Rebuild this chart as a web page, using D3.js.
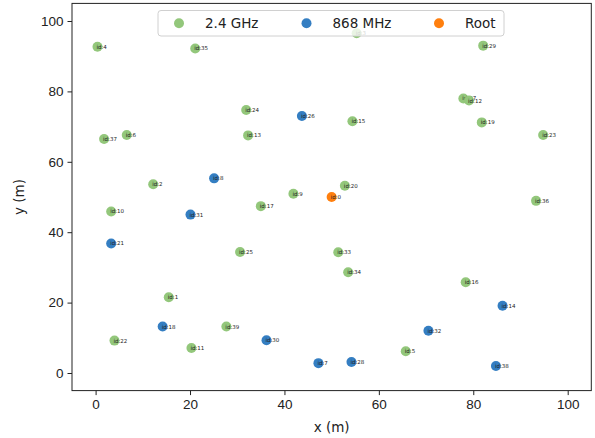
<!DOCTYPE html>
<html>
<head>
<meta charset="utf-8">
<script src="https://cdn.jsdelivr.net/npm/d3@7"></script>
<style>
  body { margin: 0; background: #fff; }
  svg { font-family: "DejaVu Sans", sans-serif; }
</style>
</head>
<body>
<div id="chart"></div>
<script>
// node ids, positions (m) and radio band
const nodeIds = [4, 35, 3, 29, 24, 26, 15, 27, 12, 19, 23, 37, 6, 13, 2, 8, 10, 31, 21, 9, 17, 0, 20, 36, 25, 33, 34, 16, 14, 1, 18, 39, 22, 11, 30, 7, 28, 5, 32, 38];
const nodeX = [0.4, 21.1, 55.3, 82.1, 31.9, 43.7, 54.4, 77.9, 79.1, 81.8, 94.8, 1.8, 6.6, 32.3, 12.2, 25.1, 3.3, 20.1, 3.3, 41.9, 35.0, 50.0, 52.8, 93.3, 30.6, 51.4, 53.5, 78.4, 86.2, 15.5, 14.2, 27.7, 4.0, 20.3, 36.2, 47.2, 54.2, 65.7, 70.5, 84.8];
const nodeY = [92.7, 92.2, 96.5, 93.0, 74.7, 73.0, 71.5, 78.0, 77.4, 71.2, 67.6, 66.5, 67.6, 67.5, 53.6, 55.3, 45.9, 45.0, 36.8, 50.9, 47.4, 50.0, 53.2, 48.9, 34.4, 34.3, 28.6, 25.8, 19.1, 21.5, 13.2, 13.2, 9.2, 7.1, 9.3, 2.8, 3.1, 6.2, 12.0, 2.0];
const nodeBand = ['2.4 GHz', '2.4 GHz', '2.4 GHz', '2.4 GHz', '2.4 GHz', '868 MHz', '2.4 GHz', '2.4 GHz', '2.4 GHz', '2.4 GHz',
  '2.4 GHz', '2.4 GHz', '2.4 GHz', '2.4 GHz', '2.4 GHz', '868 MHz', '2.4 GHz', '868 MHz', '868 MHz', '2.4 GHz',
  '2.4 GHz', 'Root', '2.4 GHz', '2.4 GHz', '2.4 GHz', '2.4 GHz', '2.4 GHz', '2.4 GHz', '868 MHz', '2.4 GHz',
  '868 MHz', '2.4 GHz', '2.4 GHz', '2.4 GHz', '868 MHz', '868 MHz', '868 MHz', '2.4 GHz', '868 MHz', '868 MHz'];

const bands = ['2.4 GHz', '868 MHz', 'Root'];
const bandColors = ['#93c77b', '#347ec2', '#ff7f0e'];
const xTicks = [0, 20, 40, 60, 80, 100];
const yTicks = [0, 20, 40, 60, 80, 100];

const W = 595, H = 438;
const margin = { top: 3.4, right: 3.7, bottom: 47.4, left: 72 };
const width = W - margin.left - margin.right;
const height = H - margin.top - margin.bottom;

const nodes = nodeIds.map((id, i) => ({ id, x: nodeX[i], y: nodeY[i], band: nodeBand[i] }));

const svg = d3.select('#chart').append('svg')
  .attr('width', W)
  .attr('height', H);

const g = svg.append('g')
  .attr('transform', `translate(${margin.left},${margin.top})`);

const x = d3.scaleLinear().domain([-5, 105]).range([0, width]);
const y = d3.scaleLinear().domain([-5, 105]).range([height, 0]);
const color = d3.scaleOrdinal().domain(bands).range(bandColors);

// axes
const xAxis = g.append('g')
  .attr('transform', `translate(0,${height})`)
  .call(d3.axisBottom(x).tickValues(xTicks).tickSize(4.5).tickPadding(4));
const yAxis = g.append('g')
  .call(d3.axisLeft(y).tickValues(yTicks).tickSize(4.5).tickPadding(4));

[xAxis, yAxis].forEach(a => {
  a.select('.domain').remove();
  a.selectAll('line').attr('stroke', '#222').attr('stroke-width', 1);
  a.selectAll('text').attr('fill', '#222').style('font-size', '13.5px');
});

// frame
g.append('rect')
  .attr('width', width)
  .attr('height', height)
  .attr('fill', 'none')
  .attr('stroke', '#222')
  .attr('stroke-width', 1);

// nodes + labels
const node = g.selectAll('.node')
  .data(nodes)
  .enter()
  .append('g')
  .attr('class', 'node');

node.append('circle')
  .attr('cx', d => x(d.x))
  .attr('cy', d => y(d.y))
  .attr('r', 5)
  .attr('fill', d => color(d.band));

node.append('text')
  .attr('x', d => x(d.x) - 1)
  .attr('y', d => y(d.y) + 2)
  .attr('fill', '#222')
  .style('font-size', '5.5px')
  .text(d => `id:${d.id}`);

// axis labels
svg.append('text')
  .attr('x', margin.left + width / 2)
  .attr('y', 432)
  .attr('text-anchor', 'middle')
  .attr('fill', '#222')
  .style('font-size', '13.5px')
  .text('x (m)');

svg.append('text')
  .attr('transform', `translate(24,${margin.top + height / 2}) rotate(-90)`)
  .attr('text-anchor', 'middle')
  .attr('fill', '#222')
  .style('font-size', '13.5px')
  .text('y (m)');

// legend
const legend = svg.append('g').attr('transform', 'translate(158,10.5)');
legend.append('rect')
  .attr('width', 346)
  .attr('height', 25.5)
  .attr('rx', 3)
  .attr('fill', 'white')
  .attr('fill-opacity', 0.8)
  .attr('stroke', '#d0d0d0')
  .attr('stroke-width', 1);

const legendX = [21, 148.5, 281];
const item = legend.selectAll('.item')
  .data(bands)
  .enter()
  .append('g')
  .attr('transform', (d, i) => `translate(${legendX[i]},12.8)`);

item.append('circle')
  .attr('r', 5)
  .attr('fill', d => color(d));

item.append('text')
  .attr('x', 26)
  .attr('y', 5)
  .attr('fill', '#222')
  .style('font-size', '13.5px')
  .text(d => d);
</script>
</body>
</html>
